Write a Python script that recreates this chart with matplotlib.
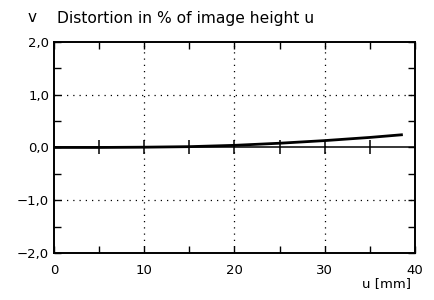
import numpy as np
import matplotlib.pyplot as plt

# distortion curve
u = [0, 5, 10, 15, 20, 25, 30, 35, 38.5]
v = [0, 0.0, 0.005, 0.015, 0.04, 0.08, 0.13, 0.19, 0.24]

x_labels = [0, 10, 20, 30, 40]
y_ticks = [-2, -1, 0, 1, 2]
y_labels = ["\u22122,0", "\u22121,0", "0,0", "1,0", "2,0"]
x_minor = [5, 10, 15, 20, 25, 30, 35]

fig = plt.figure(figsize=(4.35, 3.0), dpi=100)
ax = fig.add_axes([0.124, 0.157, 0.83, 0.703])

ax.set_xlim(0, 40)
ax.set_ylim(-2, 2)

# dotted grid at 10/20/30 and +-1
for x in [10, 20, 30]:
    ax.axvline(x, color="black", lw=0.9, ls=(0, (1, 4)))
for y in [-1, 1]:
    ax.axhline(y, color="black", lw=0.9, ls=(0, (1, 4)))

# zero line with crossing ticks
ax.axhline(0, color="black", lw=1.1)
ax.plot(x_minor, [0] * len(x_minor), ls="none", marker="|", ms=10, mew=1.1, color="black")

ax.plot(u, v, color="black", lw=2)

ax.set_xticks(x_labels)
ax.set_xticks(x_minor, minor=True)
ax.set_yticks(y_ticks)
ax.set_yticklabels(y_labels)
ax.set_yticks(np.arange(-2, 2.01, 0.5), minor=True)
ax.tick_params(which="both", direction="in", top=True, right=True, length=5, width=1, labelsize=9.5)
ax.tick_params(axis="x", pad=8)

for s in ax.spines.values():
    s.set_linewidth(1.4)

fig.text(28 / 435, 0.94, "v", fontsize=11, va="center")
fig.text(57 / 435, 0.94, "Distortion in % of image height u", fontsize=11.2, va="center")
fig.text(0.945, 0.055, "u [mm]", fontsize=9.5, ha="right", va="center")

fig.savefig("out.png", dpi=100)
